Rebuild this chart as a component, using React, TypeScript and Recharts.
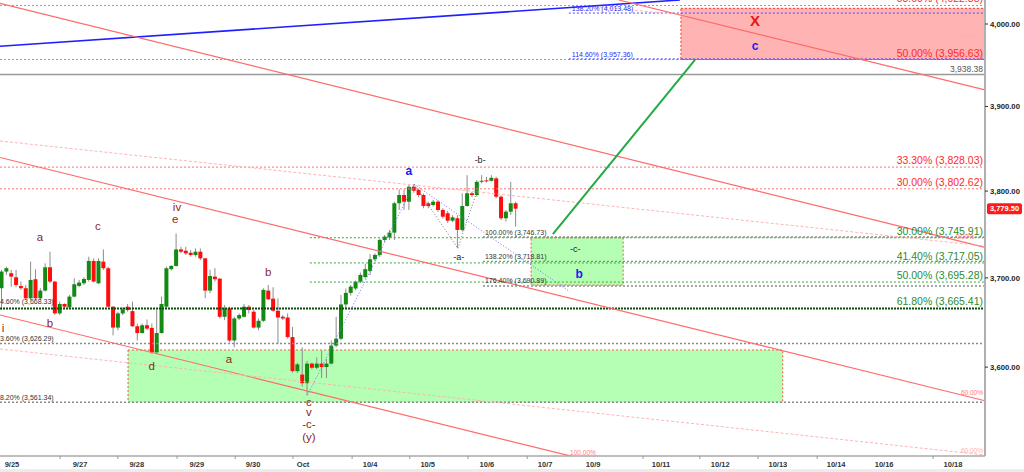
import React from 'react';
import {
  ComposedChart,
  Bar,
  XAxis,
  YAxis,
  ReferenceLine,
  ReferenceArea,
  ReferenceDot,
} from 'recharts';

// ---------- candles (2h bars, index = bar number) ----------
const candleOpen = [
  3688.3, 3707.2, 3705.3, 3700.7, 3690.9, 3688.3, 3676.9, 3698.5, 3676.9, 3685.6,
  3712.1, 3695.8, 3659.9, 3670.5, 3666.7, 3678.8, 3690.9, 3693.9, 3697.7, 3719.3,
  3693.9, 3718.5, 3711.0, 3667.4, 3644.0, 3659.9, 3667.4, 3662.5, 3645.5, 3637.9,
  3646.6, 3643.6, 3616.4, 3637.9, 3667.4, 3710.0, 3713.6, 3732.5, 3731.0, 3728.7,
  3726.1, 3729.9, 3722.3, 3685.6, 3701.5, 3699.2, 3656.1, 3665.6, 3629.6, 3654.2,
  3656.1, 3667.4, 3661.8, 3644.0, 3651.6, 3685.6, 3676.5, 3662.9, 3656.1, 3655.3,
  3633.4, 3595.6, 3591.8, 3582.3, 3603.9, 3599.3, 3603.9, 3600.1, 3603.9, 3623.9,
  3631.5, 3670.0, 3683.0, 3688.0, 3695.8, 3701.0, 3708.0, 3721.2, 3726.2, 3743.4,
  3746.5, 3751.8, 3785.8, 3795.4, 3787.6, 3805.0, 3801.2, 3795.4, 3785.8, 3783.8,
  3787.6, 3778.0, 3774.2, 3765.6, 3768.4, 3754.9, 3782.6, 3797.4, 3795.4, 3810.8,
  3812.5, 3812.0, 3814.8, 3793.4, 3768.4, 3776.0, 3785.8,
];
const candleHigh = [
  3709.1, 3712.8, 3709.1, 3709.1, 3695.8, 3692.0, 3718.5, 3709.8, 3688.3, 3716.6,
  3729.9, 3696.5, 3673.1, 3671.2, 3680.7, 3699.6, 3697.7, 3700.7, 3724.2, 3722.3,
  3722.3, 3732.5, 3712.8, 3668.2, 3661.8, 3666.7, 3670.5, 3673.1, 3648.5, 3648.5,
  3653.1, 3648.5, 3663.7, 3678.8, 3712.8, 3714.7, 3750.7, 3735.5, 3735.5, 3731.8,
  3733.6, 3733.6, 3722.5, 3709.1, 3711.0, 3699.6, 3669.3, 3667.4, 3656.1, 3659.9,
  3670.5, 3669.3, 3663.7, 3654.2, 3688.3, 3692.0, 3689.4, 3676.9, 3658.0, 3659.9,
  3644.7, 3605.0, 3622.0, 3606.9, 3605.0, 3610.7, 3618.3, 3608.8, 3629.6, 3656.1,
  3680.7, 3688.0, 3692.0, 3697.0, 3706.0, 3716.0, 3727.0, 3728.0, 3745.0, 3749.0,
  3754.9, 3787.6, 3802.0, 3802.0, 3807.0, 3808.0, 3803.0, 3797.0, 3787.6, 3789.6,
  3789.6, 3780.0, 3777.0, 3772.0, 3772.0, 3797.4, 3818.6, 3799.0, 3812.8, 3818.6,
  3816.6, 3818.6, 3816.6, 3795.0, 3778.0, 3810.8, 3787.6,
];
const candleLow = [
  3663.7, 3703.4, 3690.1, 3689.4, 3686.4, 3675.0, 3675.0, 3675.0, 3675.0, 3684.5,
  3693.9, 3658.0, 3658.0, 3665.6, 3665.6, 3678.0, 3689.4, 3692.0, 3695.8, 3694.7,
  3693.2, 3709.1, 3666.7, 3635.3, 3641.0, 3658.0, 3661.8, 3644.7, 3629.6, 3637.2,
  3641.0, 3614.5, 3614.5, 3637.2, 3665.6, 3708.3, 3712.8, 3728.0, 3726.1, 3724.2,
  3724.2, 3720.4, 3676.9, 3682.6, 3695.8, 3654.2, 3652.3, 3627.7, 3622.0, 3652.3,
  3655.3, 3659.9, 3642.9, 3641.0, 3650.4, 3675.0, 3661.8, 3625.8, 3652.3, 3631.5,
  3593.7, 3593.7, 3578.5, 3569.1, 3597.5, 3597.5, 3588.0, 3588.0, 3603.1, 3622.0,
  3629.6, 3665.0, 3680.0, 3686.0, 3694.0, 3699.0, 3703.4, 3719.0, 3724.0, 3741.0,
  3743.4, 3743.4, 3778.0, 3778.0, 3778.0, 3798.0, 3793.0, 3780.0, 3780.0, 3782.0,
  3776.0, 3768.0, 3763.0, 3764.0, 3733.9, 3753.0, 3781.8, 3793.0, 3793.4, 3809.0,
  3810.0, 3811.0, 3791.6, 3766.4, 3764.5, 3772.2, 3758.7,
];
const candleClose = [
  3707.2, 3711.0, 3701.5, 3692.0, 3688.3, 3676.9, 3697.7, 3676.9, 3685.6, 3712.1,
  3695.8, 3659.9, 3670.5, 3667.4, 3678.8, 3692.8, 3694.7, 3698.8, 3719.3, 3695.8,
  3719.3, 3711.0, 3667.4, 3644.0, 3659.9, 3664.4, 3663.7, 3645.5, 3637.9, 3646.6,
  3642.9, 3616.4, 3637.9, 3670.5, 3711.0, 3713.6, 3732.5, 3729.9, 3728.0, 3726.1,
  3729.9, 3722.3, 3685.6, 3702.2, 3698.5, 3656.1, 3665.6, 3629.6, 3654.2, 3658.0,
  3667.4, 3663.7, 3644.0, 3651.6, 3686.4, 3675.8, 3662.9, 3655.3, 3654.2, 3633.4,
  3595.6, 3603.1, 3582.3, 3603.9, 3599.3, 3603.9, 3600.1, 3603.9, 3623.9, 3631.5,
  3670.0, 3683.0, 3690.1, 3695.8, 3703.4, 3710.0, 3721.2, 3726.2, 3743.4, 3747.2,
  3751.8, 3785.8, 3795.4, 3787.6, 3805.0, 3800.4, 3795.4, 3782.6, 3782.6, 3787.6,
  3778.0, 3770.2, 3765.6, 3769.5, 3754.9, 3782.6, 3797.4, 3795.4, 3810.8, 3812.0,
  3812.0, 3815.5, 3793.4, 3768.4, 3776.0, 3785.8, 3779.5,
];
const lastPrice = 3779.5;

// ---------- axes ----------
const X_DOMAIN: [number, number] = [-0.4, 202.7];
const Y_DOMAIN: [number, number] = [3503.1, 4029.6];
const xTickValues = [2.07, 16.1, 27.8, 40.2, 51.8, 62.1, 75.9, 87.8, 100.0, 112.0, 121.9, 135.9, 148.1, 160.0, 172.0, 181.9, 196.1];
const xTickLabels = ['9/25', '9/27', '9/28', '9/29', '9/30', 'Oct', '10/4', '10/5', '10/6', '10/7', '10/9', '10/11', '10/12', '10/13', '10/14', '10/16', '10/18'];
const dayStarts = [12.0, 23.9, 36.1, 48.1, 60.0, 72.2, 84.1, 96.1, 108.3, 132.2, 143.9, 155.9, 168.1, 192.0];
const yTicks = [3600, 3700, 3800, 3900, 4000];

// ---------- horizontal levels ----------
const redFibLevels = [4022.85, 3956.63, 3828.03, 3802.62];
const redFibLabels = ['58.60% (4,022.85)', '50.00% (3,956.63)', '33.30% (3,828.03)', '30.00% (3,802.62)'];
const greenFibLevels = [3745.91, 3717.05, 3695.28];
const greenFibLabels = ['30.00% (3,745.91)', '41.40% (3,717.05)', '50.00% (3,695.28)'];
const greenFibStart = 63.5;
const keyLevel = 3665.41;
const keyLevelLabel = '61.80% (3,665.41)';
const leftLevels = [3668.33, 3626.29, 3561.34];
const leftLabels = ['4.60% (3,668.33)', '3.60% (3,626.29)', '8.20% (3,561.34)'];
const grayFullLevels = [3626.29, 3561.34];
const extLevels = [3746.73, 3718.81, 3690.89];
const extLabels = ['100.00% (3,746.73)', '138.20% (3,718.81)', '176.40% (3,690.89)'];
const extStart = 99.2;
const blueLevels = [4013.48, 3957.36];
const blueLabels = ['138.20% (4,013.48)', '114.60% (3,957.36)'];
const blueStart = 116.9;
const resistance = 3938.38;
const resistanceLabel = '3,938.38';

// ---------- zones [x1, x2, lowPrice, highPrice] ----------
const targetZone = [140.0, 202.7, 3956.63, 4019.3];
const supportZone = [26.0, 161.0, 3561.34, 3619.0];
const pullbackZone = [109.1, 128.1, 3691.9, 3745.91];

// ---------- trend lines [x1, price1, x2, price2] ----------
const blueTrend = [-0.4, 3972.7, 139.8, 4029.6];
const redChannel = [
  [-0.4, 4025.5, 202.7, 3734.9],
  [127.2, 4029.6, 202.7, 3919.8],
  [-0.4, 3839.4, 202.7, 3563.0],
  [-0.4, 3658.1, 119.2, 3500.6],
];
const faintChannel = [
  [-0.4, 3858.9, 202.7, 3736.4],
  [123.3, 4020.9, 202.7, 3976.7],
  [-0.4, 3620.1, 202.7, 3504.2],
];
const projection = [113.6, 3750.2, 142.9, 3956.1];
const waveA = [63, 3569.1, 85, 3808.0];
const waveBProj = [85, 3808.0, 117.1, 3684.4];
const subWaveX = [85, 94, 98.5];
const subWaveY = [3808.0, 3733.9, 3809.1];

// ---------- labels ----------
const waveText = ['i', 'a', 'b', 'c', 'd', 'iv', 'e', 'a', 'b', 'c', 'v', '-c-', '(y)'];
const waveX = [0.2, 7.85, 9.9, 19.8, 30.9, 36.1, 35.7, 46.8, 54.9, 63.3, 63.3, 63.3, 63.3];
const waveY = [3643.5, 3746.8, 3649.1, 3759.4, 3601.2, 3781.5, 3767.5, 3609.0, 3706.7, 3561.7, 3550.8, 3537.7, 3523.6];
const blueWaveText = ['a', 'b', 'c'];
const blueWaveX = [83.9, 119.0, 155.3];
const blueWaveY = [3823.5, 3704.4, 3973.1];
const subWaveText = ['-b-', '-a-', '-c-'];
const subWaveLX = [98.6, 94.2, 118.2];
const subWaveLY = [3836.4, 3723.8, 3733.0];
const targetMark = { text: 'X', x: 155.3, y: 4003.7 };
const pctText = ['0.00%', '0.00%', '100.00%', '60.00%', '60.00%'];
const pctX = [199.0, 198.6, 119.8, 200.0, 200.0];
const pctY = [3986.5, 3747.9, 3507.4, 3572.6, 3508.5];

const FONT = '"Liberation Sans", Arial, sans-serif';
const GREEN = '#138a13';
const RED = '#ff0d0d';

const candles = candleOpen.map((o, i) => ({
  idx: i,
  open: o,
  high: candleHigh[i],
  low: candleLow[i],
  close: candleClose[i],
  range: [candleLow[i], candleHigh[i]],
}));

const Candle = (props: any) => {
  const { x, y, width, height, payload } = props;
  if (!payload || x == null || y == null) return null;
  const top = Math.min(y, y + height);
  const h = Math.abs(height);
  const lh = Math.log(payload.high);
  const ll = Math.log(payload.low);
  const span = lh - ll;
  const py = (v: number) => (span > 0 ? top + (h * (lh - Math.log(v))) / span : top);
  const yo = py(payload.open);
  const yc = py(payload.close);
  const up = payload.close >= payload.open;
  const bt = Math.min(yo, yc);
  const bh = Math.max(1, Math.abs(yo - yc));
  const cx = x + width / 2;
  return (
    <g>
      <line x1={cx} x2={cx} y1={top} y2={top + h} stroke="#8c8c8c" strokeWidth={1} />
      <rect x={x} y={bt} width={width} height={bh} fill={up ? GREEN : RED} />
    </g>
  );
};

const XTick = (p: any) => {
  const i = xTickValues.indexOf(p.payload.value);
  return (
    <text x={p.x} y={p.y + 11} textAnchor="middle" fontSize={7.5} fontWeight="bold" fill="#333" fontFamily={FONT}>
      {i >= 0 ? xTickLabels[i] : ''}
    </text>
  );
};

const YTick = (p: any) => (
  <text x={p.x} y={p.y} dy={2.8} textAnchor="start" fontSize={7.7} fontWeight="bold" fill="#222" fontFamily={FONT}>
    {Number(p.payload.value).toLocaleString('en-US', { minimumFractionDigits: 2, maximumFractionDigits: 2 })}
  </text>
);

const note = (
  key: string,
  x: number,
  y: number,
  text: string,
  opts: { color: string; size: number; bold?: boolean; anchor?: 'start' | 'middle' | 'end'; dy?: number; central?: boolean }
) => (
  <ReferenceDot
    key={key}
    x={x}
    y={y}
    r={0}
    ifOverflow="visible"
    shape={(p: any) => (
      <text
        x={p.cx}
        y={p.cy}
        dy={opts.dy ?? 0}
        textAnchor={opts.anchor ?? 'middle'}
        dominantBaseline={opts.central ? 'central' : 'alphabetic'}
        fontSize={opts.size}
        fontWeight={opts.bold ? 'bold' : 'normal'}
        fill={opts.color}
        fontFamily={FONT}
      >
        {text}
      </text>
    )}
  />
);

const seg = (key: string, l: number[], stroke: string, width: number, dash?: string) => (
  <ReferenceLine
    key={key}
    segment={[
      { x: l[0], y: l[1] },
      { x: l[2], y: l[3] },
    ]}
    stroke={stroke}
    strokeWidth={width}
    strokeDasharray={dash}
    ifOverflow="hidden"
  />
);

const hline = (key: string, v: number, x1: number, stroke: string, width: number, dash?: string) =>
  seg(key, [x1, v, X_DOMAIN[1], v], stroke, width, dash);

export default function App() {
  const right = X_DOMAIN[1] - 0.4;
  return (
    <div style={{ position: 'absolute', left: 0, top: 0, width: 1024, height: 472, background: '#fff' }}>
      <ComposedChart
        width={1024}
        height={469}
        data={candles}
        margin={{ top: 0, right: 0, bottom: 0, left: 0 }}
        style={{ fontFamily: FONT }}
      >
        <XAxis
          dataKey="idx"
          type="number"
          domain={X_DOMAIN}
          allowDataOverflow
          ticks={xTickValues}
          interval={0}
          tick={<XTick />}
          tickLine={false}
          tickSize={0}
          tickMargin={0}
          height={13}
          axisLine={{ stroke: '#a8a8a8', strokeWidth: 1.5 }}
        />
        <YAxis
          orientation="right"
          scale="log"
          domain={Y_DOMAIN}
          allowDataOverflow
          ticks={yTicks}
          interval={0}
          width={39}
          tick={<YTick />}
          tickSize={3}
          tickMargin={2}
          tickLine={{ stroke: '#333' }}
          axisLine={{ stroke: '#b0b0b0', strokeWidth: 2 }}
        />

        {/* zones */}
        <ReferenceArea
          x1={targetZone[0]}
          x2={targetZone[1]}
          y1={targetZone[2]}
          y2={targetZone[3]}
          fill="#ffb3b3"
          fillOpacity={1}
          stroke="#ff3030"
          strokeDasharray="2 2"
          ifOverflow="visible"
        />
        <ReferenceArea
          x1={supportZone[0]}
          x2={supportZone[1]}
          y1={supportZone[2]}
          y2={supportZone[3]}
          fill="#b4ffb4"
          fillOpacity={1}
          stroke="#ff5050"
          strokeDasharray="2 2"
          ifOverflow="visible"
        />
        <ReferenceArea
          x1={pullbackZone[0]}
          x2={pullbackZone[1]}
          y1={pullbackZone[2]}
          y2={pullbackZone[3]}
          fill="#b4ffb4"
          fillOpacity={1}
          stroke="#ff5050"
          strokeDasharray="2 2"
          ifOverflow="visible"
        />

        {/* horizontal levels */}
        {redFibLevels.map((v, i) => hline(`rf${i}`, v, X_DOMAIN[0], '#ff7070', 1, '2 2'))}
        {greenFibLevels.map((v, i) => hline(`gf${i}`, v, greenFibStart, '#3aa83a', 1, '2 2'))}
        {hline('key', keyLevel, X_DOMAIN[0], '#0a4d0a', 2, '2 1')}
        {grayFullLevels.map((v, i) => hline(`gl${i}`, v, X_DOMAIN[0], '#8a8a8a', 1.4, '2 2'))}
        {extLevels.map((v, i) => hline(`ex${i}`, v, extStart, '#8a8a8a', 1.4, '2 2'))}
        {blueLevels.map((v, i) => hline(`bl${i}`, v, blueStart, '#4a4aff', 1, '2 2'))}
        {hline('res', resistance, X_DOMAIN[0], '#9a9a9a', 1.5)}

        {/* trend lines */}
        {seg('blue', blueTrend, '#1f1fff', 1.6)}
        {redChannel.map((l, i) => seg(`rc${i}`, l, '#ff6a6a', 1.2))}
        {faintChannel.map((l, i) => seg(`fc${i}`, l, '#ffb4b4', 1, '3 2'))}
        {seg('proj', projection, '#22aa44', 2)}
        {seg('wa', waveA, '#6f6fff', 1, '1 2')}
        {seg('wb', waveBProj, '#6f6fff', 1, '1 2')}
        {seg('sw1', [subWaveX[0], subWaveY[0], subWaveX[1], subWaveY[1]], '#777', 1, '1 2')}
        {seg('sw2', [subWaveX[1], subWaveY[1], subWaveX[2], subWaveY[2]], '#777', 1, '1 2')}

        {/* day ticks */}
        {dayStarts.map((d, i) => (
          <ReferenceDot
            key={`ds${i}`}
            x={d}
            y={Y_DOMAIN[0]}
            r={0}
            ifOverflow="visible"
            shape={(p: any) => <line x1={p.cx} x2={p.cx} y1={p.cy} y2={p.cy + 3} stroke="#999" strokeWidth={1} />}
          />
        ))}

        <Bar dataKey="range" barSize={4} shape={<Candle />} isAnimationActive={false} />

        {/* level labels */}
        {redFibLevels.map((v, i) => note(`rfl${i}`, right, v, redFibLabels[i], { color: '#ff2a2a', size: 10.5, anchor: 'end', dy: -3 }))}
        {greenFibLevels.map((v, i) => note(`gfl${i}`, right, v, greenFibLabels[i], { color: '#2e8b2e', size: 10.5, anchor: 'end', dy: -3 }))}
        {note('keyl', right, keyLevel, keyLevelLabel, { color: '#2e8b2e', size: 10.5, anchor: 'end', dy: -3 })}
        {note('resl', right, resistance, resistanceLabel, { color: '#555', size: 8.5, anchor: 'end', dy: -3 })}
        {leftLevels.map((v, i) => note(`ll${i}`, X_DOMAIN[0], v, leftLabels[i], { color: '#333', size: 7, anchor: 'start', dy: -2 }))}
        {extLevels.map((v, i) => note(`exl${i}`, extStart + 0.4, v, extLabels[i], { color: '#333', size: 7, anchor: 'start', dy: -2.5 }))}
        {blueLevels.map((v, i) => note(`bll${i}`, blueStart + 0.6, v, blueLabels[i], { color: '#2a2aff', size: 7, anchor: 'start', dy: -2 }))}
        {pctText.map((t, i) => note(`pc${i}`, pctX[i], pctY[i], t, { color: i === 0 || i === 4 ? '#ffb0b0' : '#ff7a7a', size: 6.5, central: true }))}

        {/* wave labels */}
        {waveText.map((t, i) => note(`w${i}`, waveX[i], waveY[i], t, { color: '#8b1f1f', size: 11.5, central: true }))}
        {blueWaveText.map((t, i) => note(`bw${i}`, blueWaveX[i], blueWaveY[i], t, { color: '#2020ee', size: 12, bold: true, central: true }))}
        {subWaveText.map((t, i) => note(`sw${i}`, subWaveLX[i], subWaveLY[i], t, { color: '#222', size: 9, central: true }))}
        {note('X', targetMark.x, targetMark.y, targetMark.text, { color: '#ee1111', size: 15, bold: true, central: true })}

        {/* last price tag */}
        <ReferenceDot
          x={X_DOMAIN[1]}
          y={lastPrice}
          r={0}
          ifOverflow="visible"
          shape={(p: any) => (
            <g>
              <rect x={p.cx + 2} y={p.cy - 5.5} width={35} height={11} rx={2} fill="#ff1a1a" />
              <text x={p.cx + 19.5} y={p.cy} dy={2.7} textAnchor="middle" fontSize={7.5} fontWeight="bold" fill="#fff" fontFamily={FONT}>
                {lastPrice.toLocaleString('en-US', { minimumFractionDigits: 2 })}
              </text>
            </g>
          )}
        />
      </ComposedChart>
      <div style={{ height: 3, background: '#ececec' }} />
    </div>
  );
}
